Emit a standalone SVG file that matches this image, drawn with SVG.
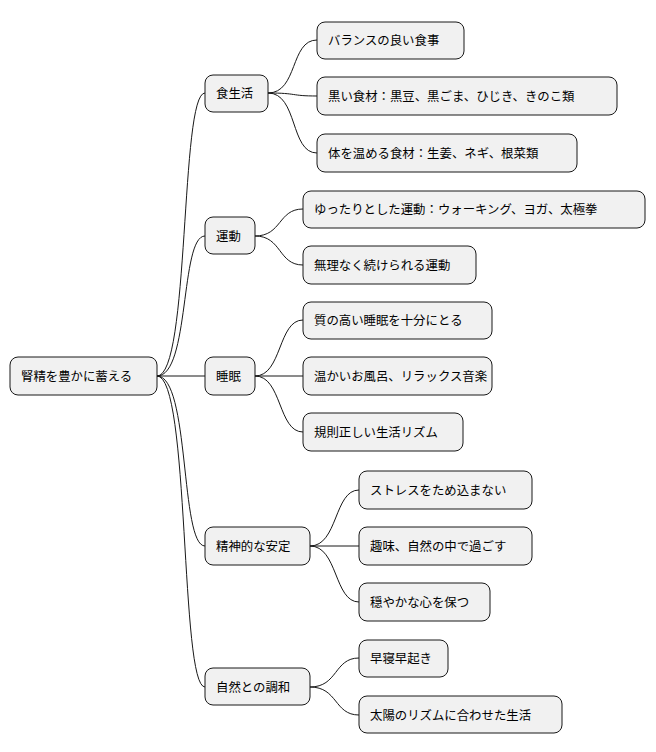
<svg xmlns="http://www.w3.org/2000/svg" width="656" height="752" viewBox="0 0 656 752">
<style>
rect{fill:#f1f1f1;stroke:#181818;stroke-width:1}
text{font-family:"Noto Sans CJK JP","Noto Sans",sans-serif;font-size:12.4px;fill:#000;dominant-baseline:central}
#edges path{fill:none;stroke:#181818;stroke-width:1}
</style>
<rect width="656" height="752" style="fill:#fff;stroke:none"/>
<g id="edges">
<path d="M157,376 C190,376 180,93 205,93"/>
<path d="M157,376 C190,376 180,236 205,236"/>
<path d="M157,376 L205,376"/>
<path d="M157,376 C190,376 180,546 205,546"/>
<path d="M157,376 C190,376 180,687 205,687"/>
<path d="M268,93 C298,93 290,40 317,40"/>
<path d="M268,93 C298,93 290,96 317,96"/>
<path d="M268,93 C298,93 290,153 317,153"/>
<path d="M255,236 C282,236 278,209 303,209"/>
<path d="M255,236 C282,236 278,265 303,265"/>
<path d="M255,376 C282,376 278,320 303,320"/>
<path d="M255,376 L303,376"/>
<path d="M255,376 C282,376 278,432 303,432"/>
<path d="M310,546 C338,546 334,490 359,490"/>
<path d="M310,546 L359,546"/>
<path d="M310,546 C338,546 334,602 359,602"/>
<path d="M310,687 C338,687 334,658 359,658"/>
<path d="M310,687 C338,687 334,715 359,715"/>
</g>
<g id="root"><rect x="10" y="357" width="147" height="38" rx="8"/><text x="21" y="376">腎精を豊かに蓄える</text></g>
<g id="n1"><rect x="205" y="75" width="63" height="37" rx="8"/><text x="216" y="93">食生活</text></g>
<g id="n2"><rect x="205" y="217" width="50" height="37" rx="8"/><text x="216" y="236">運動</text></g>
<g id="n3"><rect x="205" y="357" width="50" height="38" rx="8"/><text x="216" y="376">睡眠</text></g>
<g id="n4"><rect x="205" y="527" width="105" height="38" rx="8"/><text x="216" y="546">精神的な安定</text></g>
<g id="n5"><rect x="205" y="668" width="105" height="37" rx="8"/><text x="216" y="687">自然との調和</text></g>
<g id="l1"><rect x="317" y="22" width="147" height="37" rx="8"/><text x="328" y="40">バランスの良い食事</text></g>
<g id="l2"><rect x="317" y="77" width="300" height="38" rx="8"/><text x="328" y="96">黒い食材：黒豆、黒ごま、ひじき、きのこ類</text></g>
<g id="l3"><rect x="317" y="134" width="260" height="38" rx="8"/><text x="328" y="153">体を温める食材：生姜、ネギ、根菜類</text></g>
<g id="l4"><rect x="303" y="191" width="342" height="37" rx="8"/><text x="314" y="209">ゆったりとした運動：ウォーキング、ヨガ、太極拳</text></g>
<g id="l5"><rect x="303" y="246" width="173" height="38" rx="8"/><text x="314" y="265">無理なく続けられる運動</text></g>
<g id="l6"><rect x="303" y="302" width="189" height="37" rx="8"/><text x="314" y="320">質の高い睡眠を十分にとる</text></g>
<g id="l7"><rect x="303" y="357" width="189" height="38" rx="8"/><text x="314" y="376">温かいお風呂、リラックス音楽</text></g>
<g id="l8"><rect x="303" y="413" width="160" height="38" rx="8"/><text x="314" y="432">規則正しい生活リズム</text></g>
<g id="l9"><rect x="359" y="471" width="173" height="38" rx="8"/><text x="370" y="490">ストレスをため込まない</text></g>
<g id="l10"><rect x="359" y="527" width="173" height="38" rx="8"/><text x="370" y="546">趣味、自然の中で過ごす</text></g>
<g id="l11"><rect x="359" y="583" width="131" height="38" rx="8"/><text x="370" y="602">穏やかな心を保つ</text></g>
<g id="l12"><rect x="359" y="640" width="89" height="37" rx="8"/><text x="370" y="658">早寝早起き</text></g>
<g id="l13"><rect x="359" y="696" width="203" height="37" rx="8"/><text x="370" y="715">太陽のリズムに合わせた生活</text></g>
</svg>
